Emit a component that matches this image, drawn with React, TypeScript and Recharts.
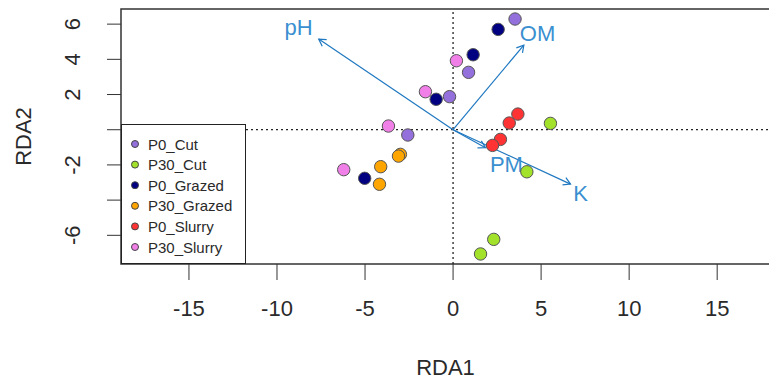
import React from 'react';
import {
  ScatterChart,
  Scatter,
  XAxis,
  YAxis,
  ReferenceLine,
  ReferenceArea,
  ReferenceDot,
} from 'recharts';

// treatment groups and their site scores on the first two RDA axes
const groups = ['P0_Cut', 'P30_Cut', 'P0_Grazed', 'P30_Grazed', 'P0_Slurry', 'P30_Slurry'];
const groupColors = ['#9370DB', '#A3E22A', '#000080', '#FFA500', '#FF3333', '#F07FE8'];

const p0CutRda1 = [3.52, 0.88, -0.2, -2.57];
const p0CutRda2 = [6.29, 3.26, 1.88, -0.3];
const p30CutRda1 = [5.53, 4.19, 2.31, 1.56];
const p30CutRda2 = [0.36, -2.39, -6.23, -7.06];
const p0GrazedRda1 = [2.56, 1.14, -0.96, -5.02];
const p0GrazedRda2 = [5.7, 4.26, 1.73, -2.76];
const p30GrazedRda1 = [-2.99, -3.1, -4.11, -4.18];
const p30GrazedRda2 = [-1.4, -1.5, -2.1, -3.1];
const p0SlurryRda1 = [3.68, 3.19, 2.69, 2.24];
const p0SlurryRda2 = [0.89, 0.38, -0.55, -0.89];
const p30SlurryRda1 = [0.19, -1.57, -3.67, -6.21];
const p30SlurryRda2 = [3.92, 2.16, 0.21, -2.27];

// environmental vectors (biplot arrows) and where their names sit
const envVars = ['pH', 'OM', 'PM', 'K'];
const envRda1 = [-7.63, 4.02, 1.84, 6.67];
const envRda2 = [5.15, 4.81, -1.02, -3.09];
const envLabelRda1 = [-8.78, 4.8, 3.03, 7.24];
const envLabelRda2 = [5.81, 5.47, -1.95, -3.65];

const xTicks = [-15, -10, -5, 0, 5, 10, 15];
const yTicks = [-6, -4, -2, 0, 2, 4, 6];
const yTickLabels = ['-6', '', '-2', '', '2', '4', '6'];

const X_DOMAIN: [number, number] = [-18.86, 18.0];
const Y_DOMAIN: [number, number] = [-7.63, 6.86];

const FONT = '"Liberation Sans", Arial, sans-serif';
const TEXT = '#2a2a2a';
const ARROW = '#1f78c0';
const ARROW_TEXT = '#3a8fd0';

const siteSeries = [
  [p0CutRda1, p0CutRda2],
  [p30CutRda1, p30CutRda2],
  [p0GrazedRda1, p0GrazedRda2],
  [p30GrazedRda1, p30GrazedRda2],
  [p0SlurryRda1, p0SlurryRda2],
  [p30SlurryRda1, p30SlurryRda2],
].map(([xs, ys]) => xs.map((x, i) => ({ x, y: ys[i] })));

const XTick = (props: any) => {
  const { x, y, payload } = props;
  return (
    <text x={x} y={y + 36} textAnchor="middle" fontSize={22} fontFamily={FONT} fill={TEXT}>
      {payload.value}
    </text>
  );
};

const YTick = (props: any) => {
  const { x, y, payload } = props;
  const label = yTickLabels[yTicks.indexOf(payload.value)];
  if (!label) return null;
  const bx = x - 27;
  return (
    <text
      x={bx}
      y={y}
      transform={`rotate(-90, ${bx}, ${y})`}
      textAnchor="middle"
      fontSize={22}
      fontFamily={FONT}
      fill={TEXT}
    >
      {label}
    </text>
  );
};

const arrowShape = (props: any) => {
  const { x1, y1, x2, y2 } = props;
  const ang = Math.atan2(y2 - y1, x2 - x1);
  const len = 8;
  const spread = Math.PI / 6;
  const ax = x2 - len * Math.cos(ang - spread);
  const ay = y2 - len * Math.sin(ang - spread);
  const bx = x2 - len * Math.cos(ang + spread);
  const by = y2 - len * Math.sin(ang + spread);
  return (
    <g stroke={ARROW} strokeWidth={1.2} fill="none">
      <line x1={x1} y1={y1} x2={x2} y2={y2} />
      <polyline points={`${ax},${ay} ${x2},${y2} ${bx},${by}`} />
    </g>
  );
};

const envLabel = (name: string) => (props: any) => (
  <text
    x={props.cx}
    y={props.cy}
    textAnchor="middle"
    dominantBaseline="central"
    fontSize={22}
    fontFamily={FONT}
    fill={ARROW_TEXT}
  >
    {name}
  </text>
);

const siteDot = (color: string) => (props: any) => (
  <circle cx={props.cx} cy={props.cy} r={6.2} fill={color} stroke="#555" strokeWidth={1} />
);

const LegendBox = () => (
  <div
    style={{
      position: 'absolute',
      left: 121,
      top: 124,
      width: 125,
      height: 140,
      border: '1px solid #222',
      background: '#fff',
      boxSizing: 'border-box',
    }}
  >
    <svg width={125} height={140}>
      {groups.map((g, i) => (
        <g key={g}>
          <circle cx={13} cy={19 + i * 20.6} r={3.5} fill={groupColors[i]} stroke="#444" strokeWidth={1} />
          <text x={26} y={19 + i * 20.6} dominantBaseline="central" fontSize={15} fontFamily={FONT} fill={TEXT}>
            {g}
          </text>
        </g>
      ))}
    </svg>
  </div>
);

export default function App() {
  return (
    <div
      style={{
        position: 'absolute',
        left: 0,
        top: 0,
        width: 769,
        height: 379,
        overflow: 'hidden',
        background: '#fff',
      }}
    >
      <ScatterChart width={770} height={379} margin={{ top: 9, right: 0, bottom: 0, left: 0 }}>
        <XAxis
          type="number"
          dataKey="x"
          domain={X_DOMAIN}
          ticks={xTicks}
          allowDataOverflow
          axisLine={false}
          tickLine={{ stroke: '#333' }}
          tickSize={16}
          tickMargin={0}
          height={115}
          tick={<XTick />}
          label={{
            content: (p: any) => (
              <text
                x={p.viewBox.x + p.viewBox.width / 2}
                y={375}
                textAnchor="middle"
                fontSize={22}
                fontFamily={FONT}
                fill={TEXT}
              >
                RDA1
              </text>
            ),
          }}
        />
        <YAxis
          type="number"
          dataKey="y"
          domain={Y_DOMAIN}
          ticks={yTicks}
          allowDataOverflow
          axisLine={false}
          tickLine={{ stroke: '#333' }}
          tickSize={14}
          tickMargin={0}
          width={121}
          tick={<YTick />}
          label={{
            content: (p: any) => {
              const cy = p.viewBox.y + p.viewBox.height / 2;
              return (
                <text
                  x={31}
                  y={cy}
                  transform={`rotate(-90, 31, ${cy})`}
                  textAnchor="middle"
                  fontSize={22}
                  fontFamily={FONT}
                  fill={TEXT}
                >
                  RDA2
                </text>
              );
            },
          }}
        />
        <ReferenceArea
          x1={X_DOMAIN[0]}
          x2={X_DOMAIN[1]}
          y1={Y_DOMAIN[0]}
          y2={Y_DOMAIN[1]}
          fill="none"
          stroke="#333"
          strokeWidth={1.5}
          ifOverflow="visible"
        />
        <ReferenceLine x={0} stroke="#222" strokeDasharray="2 3" strokeWidth={1.3} />
        <ReferenceLine y={0} stroke="#222" strokeDasharray="2 3" strokeWidth={1.3} />
        {envVars.map((v, i) => (
          <ReferenceLine
            key={v}
            segment={[
              { x: 0, y: 0 },
              { x: envRda1[i], y: envRda2[i] },
            ]}
            shape={arrowShape}
          />
        ))}
        {envVars.map((v, i) => (
          <ReferenceDot key={`lab-${v}`} x={envLabelRda1[i]} y={envLabelRda2[i]} r={0} shape={envLabel(v)} />
        ))}
        {siteSeries.map((pts, i) => (
          <Scatter
            key={groups[i]}
            name={groups[i]}
            data={pts}
            shape={siteDot(groupColors[i])}
            isAnimationActive={false}
          />
        ))}
      </ScatterChart>
      <LegendBox />
    </div>
  );
}
